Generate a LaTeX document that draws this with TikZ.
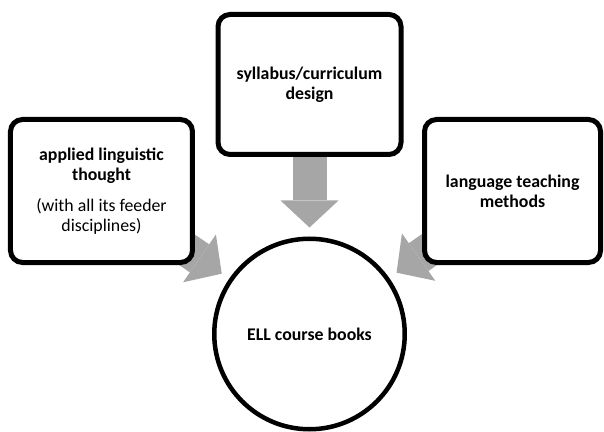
\documentclass[tikz,border=0pt]{standalone}
\usepackage{fontspec}
\setmainfont{Carlito}
\usepackage{xcolor}
\usepackage{tikz}
\usetikzlibrary{shapes.geometric, arrows.meta, positioning, backgrounds}
\definecolor{arrowgray}{RGB}{166,166,166}
\tikzstyle{source} = [rectangle, rounded corners=12pt, line width=5pt, draw=black, fill=white, align=center, font=\fontsize{17.8}{20}\selectfont]
\tikzstyle{target} = [circle, line width=4.5pt, draw=black, fill=white, minimum size=190.5pt, align=center, font=\fontsize{17.8}{20}\selectfont\bfseries]
\tikzstyle{feed} = [line width=34pt, draw=arrowgray, -{Triangle[length=27pt, width=58pt, line width=0pt]}, shorten >=9pt]

\begin{document}
\begin{tikzpicture}[on grid]
	\useasboundingbox (-309.5pt,-97pt) rectangle (294.5pt,334pt);
	
	\node (books) [target] at (0,0) {ELL course books};
	
	\node (ling) [source, minimum width=182pt, minimum height=143pt, above left=143pt and 208pt of books] {\textbf{applied linguistic}\\\textbf{thought}\\[11pt](with all its feeder\\disciplines)};
	\node (syll) [source, minimum width=183pt, minimum height=140pt, above=249.5pt of books] {\textbf{syllabus/curriculum}\\\textbf{design}};
	\node (meth) [source, minimum width=176pt, minimum height=143pt, above right=143pt and 203pt of books] {\textbf{language teaching}\\\textbf{methods}};
	
	\begin{scope}[on background layer]
	\draw [feed] (syll) -- (books);
	\draw [feed] (ling.center) -- (books);
	\draw [feed] (meth.center) -- (books);
	\end{scope}
	
\end{tikzpicture}
\end{document}
